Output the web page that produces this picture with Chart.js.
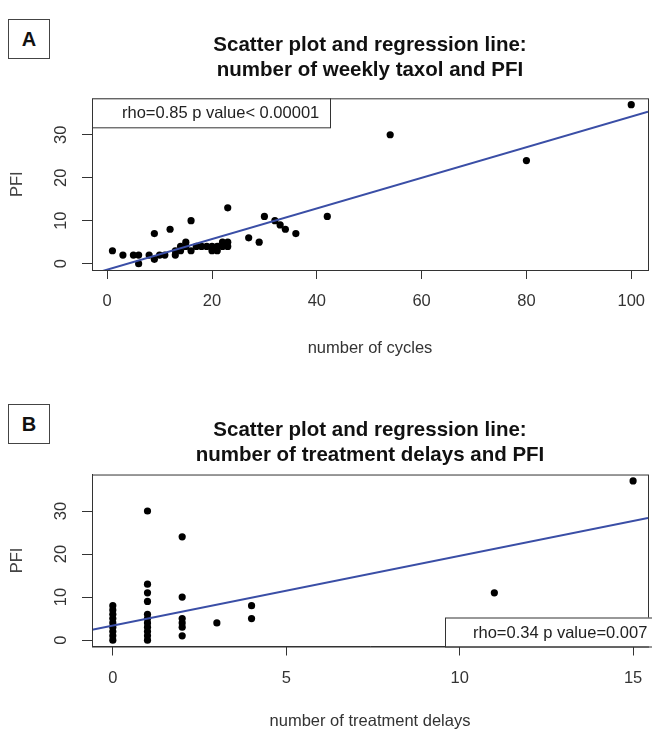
<!DOCTYPE html>
<html>
<head>
<meta charset="utf-8">
<script src="https://cdn.jsdelivr.net/npm/chart.js@4.4.1/dist/chart.umd.min.js"></script>
<style>
  html, body { margin: 0; padding: 0; background: #fff; overflow: hidden; }
  body { width: 652px; height: 733px; position: relative; font-family: "Liberation Sans", Arial, sans-serif; }
  .panel { position: absolute; left: 0; width: 652px; }
  .tag { position: absolute; left: 8px; width: 40px; height: 38px; line-height: 38px;
         border: 1px solid #444; font-weight: bold; font-size: 20px; text-align: center; color: #111; }
</style>
</head>
<body>
<div class="tag" style="top:19px">A</div>
<div class="panel" style="top:0"><canvas id="chartA" width="652" height="370"></canvas></div>
<div class="tag" style="top:404px">B</div>
<div class="panel" style="top:380px"><canvas id="chartB" width="652" height="353"></canvas></div>
<script>
// Panel A: number of weekly taxol cycles vs PFI
const cyclesA = [1, 3, 5, 6, 6, 8, 9, 9, 10, 11, 12, 13, 13, 14, 14, 15, 15, 16, 16, 17, 18, 19,
                 20, 20, 21, 21, 22, 22, 23, 23, 23, 27, 29, 30, 32, 33, 34, 36, 42, 54, 80, 100];
const pfiA    = [3, 2, 2, 2, 0, 2, 7, 1, 2, 2, 8, 2, 3, 3, 4, 5, 4, 10, 3, 4, 4, 4,
                 4, 3, 3, 4, 4, 5, 13, 5, 4, 6, 5, 11, 10, 9, 8, 7, 11, 30, 24, 37];

// Panel B: number of treatment delays vs PFI
const delaysB = [0, 0, 0, 0, 0, 0, 0, 0, 0,
                 1, 1, 1, 1, 1, 1, 1, 1, 1, 1, 1,
                 2, 2, 2, 2, 2, 2, 3, 4, 4, 11, 15];
const pfiB    = [0, 1, 2, 3, 4, 5, 6, 7, 8,
                 0, 1, 2, 3, 4, 5, 6, 9, 11, 13, 30,
                 1, 3, 4, 5, 10, 24, 4, 5, 8, 11, 37];

const xTicksA = [0, 20, 40, 60, 80, 100];
const xTicksB = [0, 5, 10, 15];
const yTicks = [0, 10, 20, 30];

// regression lines (intercept, slope)
const fitA = [-1.4, 0.356];
const fitB = [3.4, 1.62];

const titleA = ['Scatter plot and regression line:', 'number of weekly taxol and PFI'];
const titleB = ['Scatter plot and regression line:', 'number of treatment delays and PFI'];
const statA = 'rho=0.85 p value< 0.00001';
const statB = 'rho=0.34 p value=0.007';

const FONT = '"Liberation Sans", Arial, sans-serif';
const FS = 16.5;

// box round the plot area plus the stat label
const boxPlugin = {
  id: 'rbox',
  afterDraw(chart, args, opts) {
    const { ctx, chartArea: a } = chart;
    ctx.save();
    ctx.strokeStyle = '#333';
    ctx.lineWidth = 1;
    ctx.strokeRect(a.left + 0.5, a.top + 0.5, a.right - a.left, a.bottom - a.top);
    const w = opts.w, h = 29;
    const x0 = opts.corner === 'topleft' ? a.left : a.right - w;
    const y0 = opts.corner === 'topleft' ? a.top : a.bottom - h;
    ctx.fillStyle = '#fff';
    ctx.fillRect(x0, y0, w + 20, h);
    ctx.strokeRect(x0 + 0.5, y0 + 0.5, w + 20, h);
    ctx.font = FS + 'px ' + FONT;
    ctx.fillStyle = '#222';
    ctx.textBaseline = 'middle';
    ctx.fillText(opts.text, x0 + opts.pad, y0 + h / 2 + 1);
    ctx.restore();
  }
};

function makeChart(id, xs, ys, fit, xTicks, xRange, title, xLabel, titlePad, xHeight, xTitlePad, stat) {
  const pts = xs.map((x, i) => ({ x: x, y: ys[i] }));
  const line = [xRange[0], xRange[1]].map(x => ({ x: x, y: fit[0] + fit[1] * x }));
  return new Chart(document.getElementById(id), {
    type: 'scatter',
    data: {
      datasets: [
        { type: 'line', data: line, borderColor: '#3a4ea6', borderWidth: 2, pointRadius: 0, fill: false },
        { data: pts, backgroundColor: '#000', borderColor: '#000', pointRadius: 3.6, borderWidth: 0 }
      ]
    },
    options: {
      responsive: false,
      animation: false,
      events: [],
      layout: { padding: { left: 0, right: 2, top: 0, bottom: 0 } },
      plugins: {
        legend: { display: false },
        tooltip: { enabled: false },
        title: {
          display: true, text: title, color: '#111', fullSize: false,
          font: { family: FONT, size: 20.5, weight: 'bold', lineHeight: 1.22 },
          padding: titlePad
        },
        rbox: stat
      },
      scales: {
        x: {
          type: 'linear', min: xRange[0], max: xRange[1],
          afterBuildTicks: s => { s.ticks = xTicks.map(v => ({ value: v })); },
          afterFit: s => { s.height = xHeight; s.paddingLeft = 0; s.paddingRight = 0; },
          grid: { drawOnChartArea: false, tickLength: 9, color: '#333' },
          border: { color: '#333' },
          ticks: { color: '#333', padding: 13, font: { family: FONT, size: FS }, maxRotation: 0 },
          title: { display: true, text: xLabel, color: '#333',
                   font: { family: FONT, size: FS }, padding: { top: 0, bottom: xTitlePad } }
        },
        y: {
          type: 'linear', min: -1.48, max: 38.48,
          afterBuildTicks: s => { s.ticks = yTicks.map(v => ({ value: v })); },
          afterFit: s => { s.width = 92; },
          grid: { drawOnChartArea: false, tickLength: 10, color: '#333' },
          border: { color: '#333' },
          ticks: { color: '#333', padding: 11, minRotation: 90, maxRotation: 90, crossAlign: 'center',
                   font: { family: FONT, size: FS } },
          title: { display: true, text: 'PFI', color: '#444',
                   font: { family: FONT, size: FS }, padding: { top: 8, bottom: 0 } }
        }
      }
    },
    plugins: [boxPlugin]
  });
}

makeChart('chartA', cyclesA, pfiA, fitA, xTicksA, [-2.9, 103.2], titleA, 'number of cycles',
  { top: 32.5, bottom: 15.8 }, 100, 12, { corner: 'topleft', w: 218, pad: 30, text: statA });
makeChart('chartB', delaysB, pfiB, fitB, xTicksB, [-0.6, 15.43], titleB, 'number of treatment delays',
  { top: 37.5, bottom: 7 }, 86.5, 2, { corner: 'bottomright', w: 203, pad: 28, text: statB });
</script>
</body>
</html>
